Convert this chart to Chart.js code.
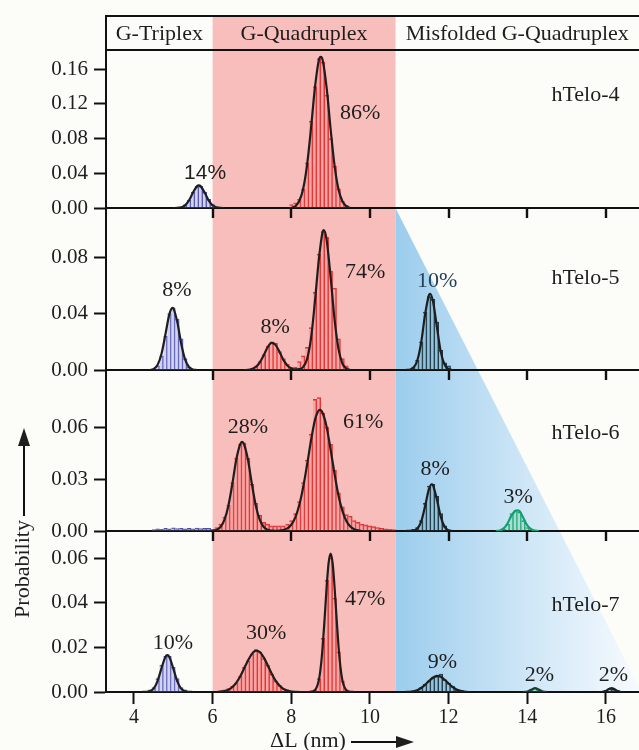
<!DOCTYPE html>
<html><head><meta charset="utf-8">
<script src="https://cdn.jsdelivr.net/npm/chart.js@4.4.1/dist/chart.umd.min.js"></script>
<style>html,body{margin:0;padding:0;background:#fcfcf8;}canvas{display:block}</style>
</head><body>
<canvas id="c" width="639" height="750"></canvas>
<script>
// ---------------- data ----------------
const xTicks = [4, 6, 8, 10, 12, 14, 16];
const innerTicks = [6, 8, 10, 12, 14, 16];
const xRange = [3.29, 16.84];
const yTicks4 = [0, 0.04, 0.08, 0.12, 0.16];
const yTicks5 = [0, 0.04, 0.08];
const yTicks6 = [0, 0.03, 0.06];
const yTicks7 = [0, 0.02, 0.04, 0.06];
const yMax = [0.182, 0.1147, 0.093, 0.0721];
const regions = ['G-Triplex', 'G-Quadruplex', 'Misfolded G-Quadruplex'];
const regionBounds = [6, 10.65];
const misfoldEdge = 16.9;
const panelNames = ['hTelo-4', 'hTelo-5', 'hTelo-6', 'hTelo-7'];
const BIN = 0.1;

// hTelo-4
const t4Blue = {start: 5.2, h: [0.001,0.004,0.009,0.018,0.025,0.025,0.018,0.010,0.004,0.001]};
const t4Red = {start: 8.0, h: [0.004,0.006,0.010,0.022,0.052,0.100,0.140,0.172,0.168,0.130,0.080,0.048,0.022,0.008,0.003]};
const t4BlueFit = [[5.0,0],[5.1,0.0001],[5.2,0.0008],[5.3,0.0031],[5.4,0.0088],[5.5,0.0176],[5.6,0.0249],[5.65,0.026],[5.7,0.0249],[5.8,0.0176],[5.9,0.0088],[6.0,0.0031],[6.1,0.0008],[6.2,0.0001],[6.3,0]];
const t4RedFit = [[8.0,0],[8.1,0.002],[8.2,0.0077],[8.3,0.0215],[8.4,0.049],[8.5,0.091],[8.6,0.138],[8.7,0.170],[8.75,0.174],[8.8,0.170],[8.9,0.138],[9.0,0.091],[9.1,0.049],[9.2,0.0215],[9.3,0.0077],[9.4,0.002],[9.5,0]];
const t4Pct = ['14%', '86%'];
const t4PctAt = [[5.81,0.0403],[9.75,0.109]];

// hTelo-5
const t5Blue = {start: 4.6, h: [0.003,0.010,0.024,0.040,0.044,0.036,0.022,0.008,0.002]};
const t5Red = {start: 7.0, h: [0.001,0.003,0.006,0.011,0.017,0.020,0.019,0.013,0.008,0.004,0.002,0.002,0.006,0.010,0.016,0.030,0.055,0.082,0.098,0.094,0.070,0.058,0.022,0.008,0.003]};
const t5Mis = {start: 11.1, h: [0.002,0.007,0.020,0.041,0.052,0.050,0.034,0.014,0.005,0.003]};
const t5BlueFit = [[4.4,0],[4.5,0.0008],[4.6,0.0036],[4.7,0.0113],[4.8,0.0251],[4.9,0.0394],[4.98,0.044],[5.0,0.0437],[5.1,0.0343],[5.2,0.019],[5.3,0.0075],[5.4,0.0021],[5.5,0.0004],[5.6,0]];
const t5RedFit = [[6.8,0],[6.9,0.0001],[7.0,0.0007],[7.1,0.0021],[7.2,0.0054],[7.3,0.0105],[7.4,0.0161],[7.5,0.0192],[7.6,0.0178],[7.7,0.0129],[7.8,0.0072],[7.9,0.0032],[8.0,0.0011],[8.1,0.0004],[8.2,0.0006],[8.3,0.002],[8.4,0.0076],[8.5,0.022],[8.6,0.048],[8.7,0.078],[8.8,0.098],[8.83,0.099],[8.9,0.092],[9.0,0.066],[9.1,0.036],[9.2,0.015],[9.3,0.0046],[9.4,0.001],[9.5,0]];
const t5MisFit = [[10.9,0],[11.0,0.0002],[11.1,0.0015],[11.2,0.0064],[11.3,0.019],[11.4,0.039],[11.5,0.053],[11.53,0.054],[11.6,0.049],[11.7,0.031],[11.8,0.013],[11.9,0.0037],[12.0,0.0007],[12.1,0]];
const t5Pct = ['8%', '8%', '74%', '10%'];
const t5PctAt = [[5.09,0.0566],[7.59,0.0304],[9.88,0.0694],[11.71,0.063]];

// hTelo-6
const t6Blue = {start: 4.5, h: [0.0008,0.0012,0.0010,0.0015,0.0012,0.0018,0.0014,0.0016,0.0012,0.0015,0.0013,0.0017,0.0014,0.0015,0.0016]};
const t6Red = {start: 6.0, h: [0.001,0.002,0.004,0.008,0.015,0.028,0.042,0.050,0.051,0.042,
  0.027,0.016,0.009,0.005,0.004,0.003,0.003,0.003,0.003,0.004,
  0.006,0.010,0.017,0.028,0.041,0.056,0.076,0.077,0.068,0.060,
  0.050,0.035,0.022,0.014,0.0095,0.0085,0.006,0.005,0.004,0.0035,
  0.003,0.0025,0.002,0.0015,0.0012,0.001,0.0008]};
const t6Mis = {start: 11.1, h: [0.001,0.002,0.006,0.016,0.026,0.027,0.020,0.010,0.003]};
const t6Green = {start: 13.4, h: [0.001,0.004,0.010,0.012,0.011,0.006,0.002]};
const t6RedFit = [[6.0,0],[6.1,0.0007],[6.2,0.0023],[6.3,0.0064],[6.4,0.0145],[6.5,0.027],[6.6,0.041],[6.7,0.050],[6.75,0.0515],[6.8,0.050],[6.9,0.041],[7.0,0.027],[7.1,0.0145],[7.2,0.0064],[7.3,0.0023],[7.4,0.0007],[7.5,0.0002],[7.6,0.0001],[7.7,0.0002],[7.8,0.0006],[7.9,0.0015],[8.0,0.0036],[8.1,0.0077],[8.2,0.0147],[8.3,0.025],[8.4,0.038],[8.5,0.052],[8.6,0.064],[8.7,0.0697],[8.73,0.070],[8.8,0.068],[8.9,0.060],[9.0,0.047],[9.1,0.033],[9.2,0.0205],[9.3,0.0116],[9.4,0.0058],[9.5,0.0026],[9.6,0.001],[9.7,0.0004],[9.8,0]];
const t6MisFit = [[10.9,0],[11.1,0.0002],[11.2,0.0013],[11.3,0.0053],[11.4,0.0142],[11.5,0.0242],[11.57,0.027],[11.6,0.0265],[11.7,0.0185],[11.8,0.0083],[11.9,0.0024],[12.0,0.0004],[12.1,0]];
const t6GreenFit = [[13.2,0],[13.3,0.0003],[13.4,0.0015],[13.5,0.0045],[13.6,0.009],[13.7,0.0117],[13.75,0.012],[13.8,0.0115],[13.9,0.0075],[14.0,0.0032],[14.1,0.001],[14.2,0.0002],[14.3,0]];
const t6Pct = ['28%', '61%', '8%', '3%'];
const t6PctAt = [[6.90,0.060],[9.83,0.0629],[11.66,0.0358],[13.77,0.0196]];

// hTelo-7
const t7Blue = {start: 4.4, h: [0.001,0.002,0.006,0.012,0.016,0.016,0.011,0.006,0.002,0.001]};
const t7Red = {start: 6.2, h: [0.0005,0.001,0.0015,0.0025,0.004,0.007,0.011,0.014,
  0.017,0.019,0.018,0.015,0.012,0.008,0.005,0.003,0.0015,0.001,
  0.0005,0.0003,0.0003,0.0003,0.0003,0.0005,0.001,0.006,0.024,0.050,
  0.060,0.042,0.018,0.005,0.001]};
const t7Mis = {start: 11.1, h: [0.0005,0.001,0.002,0.0035,0.005,0.0065,0.007,0.008,0.0055,0.004,0.0025,0.001]};
const t7Green = {start: 14.1, h: [0.0012,0.0017,0.001]};
const t7Far = {start: 16.0, h: [0.0008,0.0016,0.0012]};
const t7BlueFit = [[4.2,0],[4.3,0.0001],[4.4,0.0003],[4.5,0.0015],[4.6,0.0049],[4.7,0.0106],[4.8,0.0157],[4.85,0.0165],[4.9,0.0157],[5.0,0.0106],[5.1,0.0049],[5.2,0.0015],[5.3,0.0003],[5.4,0.0001],[5.5,0]];
const t7RedFit = [[6.1,0],[6.2,0.0002],[6.3,0.0004],[6.4,0.001],[6.5,0.0022],[6.6,0.0041],[6.7,0.0069],[6.8,0.0105],[6.9,0.0141],[7.0,0.0171],[7.1,0.0185],[7.2,0.0179],[7.3,0.0155],[7.4,0.012],[7.5,0.0083],[7.6,0.0051],[7.7,0.0029],[7.8,0.0014],[7.9,0.0006],[8.0,0.0002],[8.1,0.0001],[8.4,0],[8.5,0.0001],[8.6,0.0008],[8.7,0.0052],[8.75,0.0112],[8.8,0.0207],[8.85,0.0335],[8.9,0.0471],[8.95,0.0579],[9.0,0.062],[9.05,0.0579],[9.1,0.0471],[9.15,0.0335],[9.2,0.0207],[9.25,0.0112],[9.3,0.0052],[9.4,0.0008],[9.5,0.0001],[9.6,0]];
const t7MisFit = [[10.9,0],[11.0,0.0001],[11.1,0.0003],[11.2,0.0008],[11.3,0.0018],[11.4,0.0032],[11.5,0.0049],[11.6,0.0064],[11.7,0.0072],[11.8,0.0068],[11.9,0.0055],[12.0,0.0038],[12.1,0.0023],[12.2,0.0011],[12.3,0.0005],[12.4,0.0002],[12.5,0]];
const t7GreenFit = [[13.9,0],[14.0,0.0002],[14.1,0.001],[14.2,0.0017],[14.3,0.001],[14.4,0.0002],[14.5,0]];
const t7FarFit = [[15.9,0],[16.0,0.0005],[16.1,0.0016],[16.15,0.0017],[16.2,0.0014],[16.3,0.0004],[16.4,0]];
const t7Pct = ['10%', '30%', '47%', '9%', '2%', '2%'];
const t7PctAt = [[4.99,0.022],[7.36,0.0264],[9.88,0.0417],[11.84,0.0134],[14.31,0.0076],[16.19,0.0076]];

const nameAt = [[15.48,0.130],[15.48,0.0651],[15.48,0.0565],[15.48,0.039]];

// ---------------- styles ----------------
const SERIF = "'Liberation Serif', 'Times New Roman', serif";
const SANS = "'Liberation Sans', Arial, sans-serif";
const INK = '#1e1e1e';
const RED_BAND = 'rgb(248,190,187)';
const C_BLUE = {line: 'rgb(78,78,168)', fill: 'rgba(175,175,235,0.55)'};
const C_RED = {line: 'rgb(226,48,48)', fill: 'rgba(242,130,130,0.4)'};
const C_MIS = {line: 'rgb(30,58,72)', fill: 'rgba(110,160,180,0.35)'};
const C_GRN = {line: 'rgb(20,160,110)', fill: 'rgba(120,210,170,0.4)'};
const HEADER_H = 34;
const PANEL_PX = [158, 162, 161, 161];

function bars(hist, yAxisID, c) {
  return {
    type: 'bar', xAxisID: 'x', yAxisID,
    data: hist.h.map((v, i) => ({x: +(hist.start + i * BIN).toFixed(2), y: v})),
    backgroundColor: c.fill, borderColor: c.line,
    borderWidth: {top: 1, right: 1, left: 0, bottom: 0}, borderSkipped: false,
    grouped: false, barPercentage: 1, categoryPercentage: 1, order: 2
  };
}
function fit(pts, yAxisID, color) {
  return {
    type: 'line', xAxisID: 'x', yAxisID,
    data: pts.map(p => ({x: p[0], y: p[1]})),
    borderColor: color, borderWidth: 2.2, pointRadius: 0,
    cubicInterpolationMode: 'monotone', fill: false, order: 1
  };
}

const datasets = [
  bars(t4Blue, 'y4', C_BLUE), bars(t4Red, 'y4', C_RED),
  fit(t4BlueFit, 'y4', INK), fit(t4RedFit, 'y4', INK),
  bars(t5Blue, 'y5', C_BLUE), bars(t5Red, 'y5', C_RED), bars(t5Mis, 'y5', C_MIS),
  fit(t5BlueFit, 'y5', INK), fit(t5RedFit, 'y5', INK), fit(t5MisFit, 'y5', INK),
  bars(t6Blue, 'y6', C_BLUE), bars(t6Red, 'y6', C_RED), bars(t6Mis, 'y6', C_MIS), bars(t6Green, 'y6', C_GRN),
  fit(t6RedFit, 'y6', INK), fit(t6MisFit, 'y6', INK), fit(t6GreenFit, 'y6', C_GRN.line),
  bars(t7Blue, 'y7', C_BLUE), bars(t7Red, 'y7', C_RED), bars(t7Mis, 'y7', C_MIS), bars(t7Green, 'y7', C_GRN), bars(t7Far, 'y7', C_MIS),
  fit(t7BlueFit, 'y7', INK), fit(t7RedFit, 'y7', INK), fit(t7MisFit, 'y7', INK), fit(t7GreenFit, 'y7', '#1d3b32'), fit(t7FarFit, 'y7', INK)
];

// ---------------- scales ----------------
const axisLine = {display: true, width: 2, color: '#111'};
const scales = {
  x: {
    type: 'linear', position: 'bottom', min: xRange[0], max: xRange[1], offset: false,
    afterBuildTicks: s => { s.ticks = xTicks.map(v => ({value: v})); },
    afterFit: s => { s.height = 58; },
    grid: {drawOnChartArea: false, drawTicks: true, tickLength: 12, tickWidth: 2, tickColor: '#111', offset: false},
    border: axisLine,
    ticks: {font: {family: SERIF, size: 20}, color: INK, padding: 2, maxRotation: 0, autoSkip: false}
  }
};
['y4', 'y5', 'y6'].forEach(id => {
  scales['x' + id] = {
    type: 'linear', position: {[id]: 0}, min: xRange[0], max: xRange[1], offset: false,
    afterBuildTicks: s => { s.ticks = innerTicks.map(v => ({value: v})); },
    grid: {drawOnChartArea: false, drawTicks: false, offset: false},
    border: axisLine,
    ticks: {display: false}
  };
});
const yDefs = [['y7', yTicks7, yMax[3], PANEL_PX[3]], ['y6', yTicks6, yMax[2], PANEL_PX[2]], ['y5', yTicks5, yMax[1], PANEL_PX[1]], ['y4', yTicks4, yMax[0], PANEL_PX[0]]];
yDefs.forEach(([id, tks, mx, w]) => {
  scales[id] = {
    type: 'linear', position: 'left', stack: 'panels', stackWeight: w,
    min: 0, max: mx,
    afterBuildTicks: s => { s.ticks = tks.map(v => ({value: v})); },
    afterFit: s => { s.width = 106; },
    grid: {drawOnChartArea: false, drawTicks: true, tickLength: 12, tickWidth: 2, tickColor: '#111'},
    border: axisLine,
    ticks: {font: {family: SERIF, size: 21}, color: INK, padding: 6, autoSkip: false, callback: v => v.toFixed(2)}
  };
});

// ---------------- decorations ----------------
function arrowHead(ctx, x, y, dir) {
  ctx.beginPath();
  if (dir === 'up') { ctx.moveTo(x, y); ctx.lineTo(x - 6, y + 18); ctx.lineTo(x + 6, y + 18); }
  else { ctx.moveTo(x, y); ctx.lineTo(x - 18, y - 6); ctx.lineTo(x - 18, y + 6); }
  ctx.closePath(); ctx.fill();
}
const decor = {
  id: 'decor',
  beforeDraw(chart) {
    const {ctx, chartArea: ca, scales: s} = chart;
    ctx.save();
    ctx.fillStyle = '#fcfcf8';
    ctx.fillRect(0, 0, chart.width, chart.height);
    const x0 = s.x.getPixelForValue(regionBounds[0]);
    const x1 = s.x.getPixelForValue(regionBounds[1]);
    const top = ca.top - HEADER_H;
    ctx.fillStyle = RED_BAND;
    ctx.fillRect(x0, top, x1 - x0, ca.bottom - top);
    const tx = s.x.getPixelForValue(misfoldEdge);
    const g = ctx.createLinearGradient(x1, 0, tx, 0);
    g.addColorStop(0, 'rgb(156,205,237)');
    g.addColorStop(0.55, 'rgb(208,231,247)');
    g.addColorStop(1, 'rgb(248,251,254)');
    ctx.beginPath();
    ctx.moveTo(x1, s.y5.top);
    ctx.lineTo(x1, ca.bottom);
    ctx.lineTo(tx, ca.bottom);
    ctx.closePath();
    ctx.fillStyle = g;
    ctx.fill();
    ctx.restore();
  },
  afterDraw(chart) {
    const {ctx, chartArea: ca, scales: s} = chart;
    ctx.save();
    // tick marks hanging below the inner panel boundaries
    ctx.strokeStyle = '#111'; ctx.lineWidth = 2.4;
    ctx.beginPath();
    ['y4', 'y5', 'y6'].forEach(id => {
      const yb = s[id].getPixelForValue(0);
      innerTicks.forEach(v => {
        const px = Math.round(s.x.getPixelForValue(v));
        ctx.moveTo(px, yb); ctx.lineTo(px, yb + 10);
      });
    });
    ctx.stroke();
    ctx.lineWidth = 2;
    // header frame
    const top = ca.top - HEADER_H;
    ctx.beginPath();
    ctx.moveTo(ca.left, top); ctx.lineTo(chart.width + 2, top);
    ctx.moveTo(ca.left, top - 1); ctx.lineTo(ca.left, ca.top);
    ctx.moveTo(ca.left, ca.top); ctx.lineTo(chart.width + 2, ca.top);
    ctx.stroke();
    ctx.fillStyle = INK; ctx.textAlign = 'center'; ctx.textBaseline = 'middle';
    ctx.font = '22px ' + SERIF;
    const xb = [ca.left, s.x.getPixelForValue(regionBounds[0]), s.x.getPixelForValue(regionBounds[1]), ca.right];
    regions.forEach((t, i) => ctx.fillText(t, (xb[i] + xb[i + 1]) / 2, top + HEADER_H / 2 + 1));
    // panel labels
    const ids = ['y4', 'y5', 'y6', 'y7'];
    const pcts = [[t4Pct, t4PctAt], [t5Pct, t5PctAt], [t6Pct, t6PctAt], [t7Pct, t7PctAt]];
    ids.forEach((id, k) => {
      const ys = s[id];
      ctx.fillStyle = INK;
      ctx.font = '22px ' + SERIF;
      ctx.fillText(panelNames[k], s.x.getPixelForValue(nameAt[k][0]), ys.getPixelForValue(nameAt[k][1]));
      const [labs, at] = pcts[k];
      labs.forEach((t, i) => {
        ctx.font = (k === 0 && i === 0) ? '21px ' + SANS : '22px ' + SERIF;
        ctx.fillStyle = (k === 1 && i === 3) ? '#24405a' : INK;
        ctx.fillText(t, s.x.getPixelForValue(at[i][0]), ys.getPixelForValue(at[i][1]));
      });
    });
    // y title + arrow
    ctx.fillStyle = INK;
    ctx.save();
    ctx.translate(23, 569);
    ctx.rotate(-Math.PI / 2);
    ctx.font = '22px ' + SERIF;
    ctx.fillText('Probability', 0, 0);
    ctx.restore();
    ctx.beginPath(); ctx.moveTo(24, 516); ctx.lineTo(24, 440); ctx.stroke();
    arrowHead(ctx, 24, 428, 'up');
    // x title + arrow
    ctx.font = '22px ' + SERIF;
    ctx.fillText('\u0394L (nm)', 308, 741);
    ctx.beginPath(); ctx.moveTo(351, 742); ctx.lineTo(400, 742); ctx.stroke();
    arrowHead(ctx, 414, 742, 'right');
    ctx.restore();
  }
};

new Chart(document.getElementById('c'), {
  type: 'bar',
  data: {datasets},
  options: {
    responsive: false, animation: false, events: [],
    layout: {padding: {top: 50, left: 0, right: 0, bottom: 0}},
    plugins: {legend: {display: false}, tooltip: {enabled: false}, title: {display: false}},
    scales
  },
  plugins: [decor]
});
</script>
</body></html>
